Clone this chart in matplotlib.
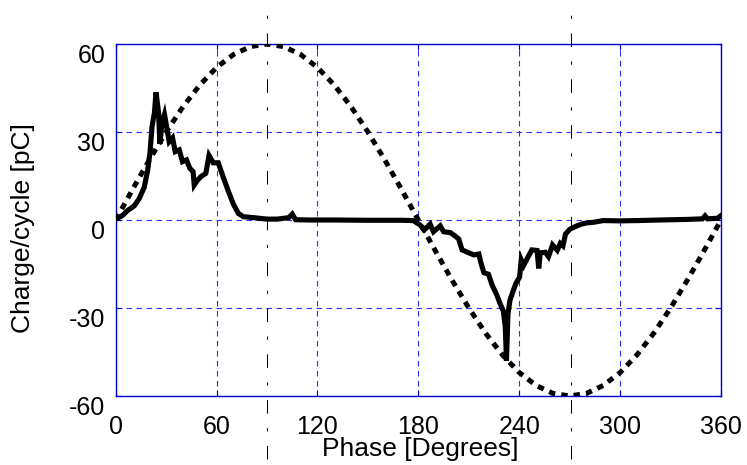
import matplotlib

matplotlib.use("Agg")
import matplotlib.pyplot as plt
import matplotlib.transforms as mtransforms

# ── Data ─────────────────────────────────────────────────────────────────────

# measured charge per cycle (solid trace)
phase_pts = [
    0, 4, 7, 11, 14, 17, 19, 20.4, 21.6, 23, 24, 25.5, 26.3, 27.5, 29, 30.3,
    31.8, 33.8, 35.4, 37.8, 39.7, 42.1, 44.1, 46, 46.7, 48.7, 50.7, 53.6, 55.5,
    58, 61, 64, 67, 70, 73, 76, 82, 90, 96, 103, 105, 107, 115, 130, 150, 170,
    177, 181, 183.5, 187, 189, 193, 195, 199, 202, 204, 206, 210, 213, 216,
    217, 219, 221.7, 223.9, 226.6, 228.6, 230.5, 231.7, 232.4, 233.3, 234.5,
    236.2, 238, 240.2, 241.2, 242.6, 244.6, 247.5, 250.6, 251.6, 252.5, 255.5,
    257.4, 259.8, 262.6, 264.4, 266, 267.5, 270, 272, 274.3, 277, 280, 284,
    290, 300, 310, 324, 340, 349, 350.5, 352, 358, 360,
]
charge_pts = [
    0.3, 1.5, 3.2, 4.8, 7.3, 11.2, 17, 23, 31.8, 36.5, 43.5, 36.5, 26, 33, 36,
    31.8, 26.7, 28, 23.3, 23.9, 19.9, 20.5, 17.6, 16.5, 11.9, 13.6, 14.8, 15.9,
    22, 19.5, 19.5, 14.5, 9.8, 5.4, 2.2, 1.1, 0.8, 0.3, 0.3, 0.8, 2.0, 0.1,
    0.0, 0.0, -0.1, -0.1, -0.2, -1.7, -3.4, -1.4, -4, -2, -4, -4.3, -5.5, -6.5,
    -10.2, -11.2, -11.9, -11.6, -14.2, -18, -18.5, -22.2, -25.5, -28.5, -31,
    -36.4, -48, -32, -27.3, -24.5, -21.6, -19.5, -13.6, -15.5, -13.3, -10.2,
    -10.4, -16.5, -11.2, -11, -12.5, -8.5, -10.3, -8, -8.8, -4.8, -3.2, -2.6,
    -2.0, -1.4, -1.0, -0.8, -0.2, -0.3, -0.2, 0.0, 0.2, 0.4, 1.4, 0.4, 0.6, 1.5,
]

# applied voltage shape, scaled to the charge axis (dotted trace)
sine_phase = list(range(0, 361, 10))
sine_vals = [
    0, 10.4, 20.5, 30, 38.6, 46, 52, 56.4, 59.1, 60, 59.1, 56.4, 52, 46, 38.6,
    30, 20.5, 10.4, 0, -10.4, -20.5, -30, -38.6, -46, -52, -56.4, -59.1, -60,
    -59.1, -56.4, -52, -46, -38.6, -30, -20.5, -10.4, 0,
]

# peak markers of the voltage
peak_phases = [90, 271]

x_ticks = [0, 60, 120, 180, 240, 300, 360]
y_ticks = [-60, -30, 0, 30, 60]

# ── Plot ─────────────────────────────────────────────────────────────────────

plt.rcParams["font.family"] = ["Liberation Sans", "DejaVu Sans"]
plt.rcParams["axes.unicode_minus"] = False

GRID_BLUE = "#3030ff"
SPINE_BLUE = "#0000d0"

fig = plt.figure(figsize=(7.47, 4.65), dpi=100)
ax = fig.add_axes([0.1549, 0.1484, 0.8103, 0.7570])

ax.plot(sine_phase, sine_vals, color="black", linewidth=3.6,
        linestyle=(0, (1.3, 1.2)), zorder=3)
ax.plot(phase_pts, charge_pts, color="black", linewidth=3.7,
        solid_joinstyle="miter", zorder=4)

for p in peak_phases:
    ax.plot([p, p], [-0.18, 1.11], transform=ax.get_xaxis_transform(),
            color="black", linewidth=0.75, linestyle=(0, (13, 14, 3, 14)),
            clip_on=False, zorder=2)

ax.set_xlim(0, 360)
ax.set_ylim(-60, 60)
ax.set_xticks(x_ticks)
ax.set_yticks(y_ticks)

ax.grid(True, color=GRID_BLUE, linewidth=0.8, linestyle=(0, (5, 4)))
for side in ax.spines.values():
    side.set_color(SPINE_BLUE)
    side.set_linewidth(1.0)

ax.tick_params(axis="both", direction="in", length=4.5, width=0.8,
               color=SPINE_BLUE, labelsize=18, top=True, right=True)
ax.tick_params(axis="x", pad=13.5)
ax.tick_params(axis="y", pad=7.5)

# labels sit a little lower than their ticks in the original export
shift = mtransforms.ScaledTranslation(0, -0.095, fig.dpi_scale_trans)
for tick in ax.yaxis.get_major_ticks():
    tick.label1.set_transform(tick.label1.get_transform() + shift)

ax.set_xlabel("Phase [Degrees]", fontsize=19)
ax.set_ylabel("Charge/cycle [pC]", fontsize=19)
ax.xaxis.set_label_coords(0.503, -0.116)
ax.yaxis.set_label_coords(-0.133, 0.477)

fig.savefig("out.png", dpi=100)
